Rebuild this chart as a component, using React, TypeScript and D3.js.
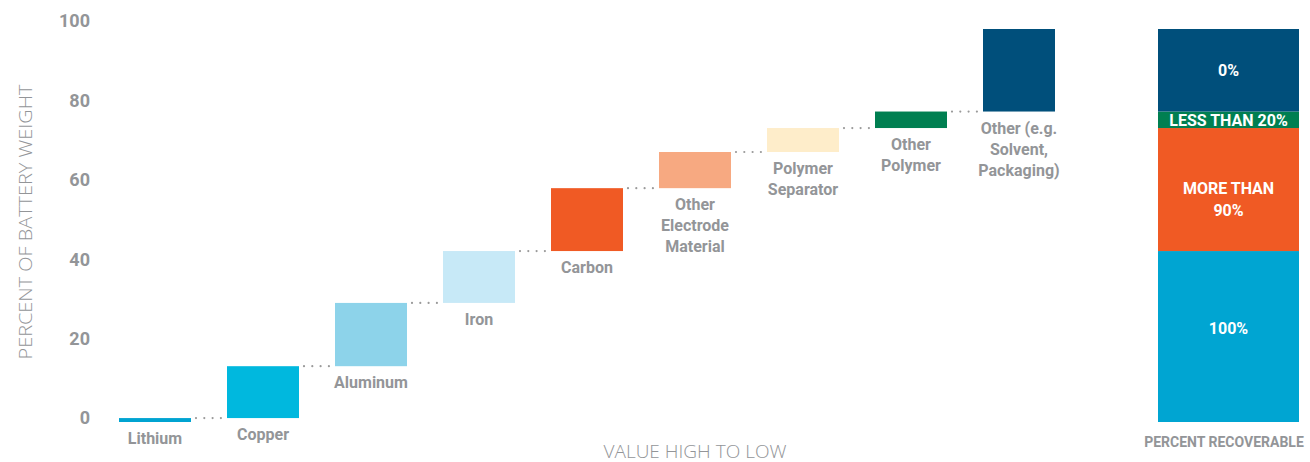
import React from "react";
import * as d3 from "d3";

const categories = [
  "Lithium",
  "Copper",
  "Aluminum",
  "Iron",
  "Carbon",
  "Other Electrode Material",
  "Polymer Separator",
  "Other Polymer",
  "Other (e.g. Solvent, Packaging)",
];
const labelLines = [
  ["Lithium"],
  ["Copper"],
  ["Aluminum"],
  ["Iron"],
  ["Carbon"],
  ["Other", "Electrode", "Material"],
  ["Polymer", "Separator"],
  ["Other", "Polymer"],
  ["Other (e.g.", "Solvent,", "Packaging)"],
];
const weights = [1, 13.2, 16.1, 13.2, 16, 9.2, 6.1, 4.2, 21];
const barColors = [
  "#00a3d1",
  "#00b8de",
  "#8dd3ea",
  "#c7e9f7",
  "#f05a24",
  "#f7a981",
  "#feedca",
  "#007f51",
  "#004f7b",
];

const recoverLabels = [["100%"], ["MORE THAN", "90%"], ["LESS THAN 20%"], ["0%"]];
const recoverValues = [43.5, 31.3, 4.2, 21];
const recoverColors = ["#00a5d2", "#f05a24", "#007f51", "#004f7b"];

const yTicks = [0, 20, 40, 60, 80, 100];

const W = 1310;
const H = 462;
const GRAY = "#939598";
const FONT = "Roboto, 'Noto Sans', sans-serif";

export default function App() {
  const y = d3.scaleLinear().domain([0, 100]).range([422, 29]);
  const tickY = d3.scaleLinear().domain([0, 100]).range([418, 21]);
  const x = d3
    .scaleBand<string>()
    .domain(categories)
    .range([101, 1073])
    .paddingInner(1 / 3)
    .paddingOuter(1 / 6);
  const bw = x.bandwidth();

  const cum: number[] = [];
  let acc = 0;
  weights.forEach((w) => {
    cum.push(acc);
    acc += w;
  });

  const stackX = d3.scaleBand<string>().domain(["rec"]).range([1158, 1299]);
  const stackCum: number[] = [];
  let acc2 = 0;
  recoverValues.forEach((v) => {
    stackCum.push(acc2);
    acc2 += v;
  });

  return (
    <svg
      width={W}
      height={H}
      style={{ position: "absolute", left: 0, top: 0, background: "#fff" }}
      fontFamily={FONT}
    >
      {/* y tick labels */}
      {yTicks.map((t) => (
        <text
          key={t}
          x={90}
          y={tickY(t)}
          dy="0.36em"
          textAnchor="end"
          fontSize={18}
          fontWeight={700}
          fill={GRAY}
        >
          {t}
        </text>
      ))}
      {/* y axis title */}
      <text
        transform={`translate(32,222) rotate(-90)`}
        textAnchor="middle"
        fontSize={19}
        fontWeight={300}
        fill={GRAY}
        fontFamily="'Open Sans', sans-serif"
        textLength={275}
        lengthAdjust="spacingAndGlyphs"
      >
        PERCENT OF BATTERY WEIGHT
      </text>
      {/* x axis title */}
      <text
        x={695}
        y={458}
        textAnchor="middle"
        fontSize={18}
        fontWeight={300}
        fill={GRAY}
        fontFamily="'Open Sans', sans-serif"
        textLength={183}
        lengthAdjust="spacingAndGlyphs"
      >
        VALUE HIGH TO LOW
      </text>

      {/* waterfall bars */}
      {categories.map((c, i) => {
        const x0 = x(c)!;
        const top = y(cum[i] + weights[i]);
        const bottom = y(cum[i]);
        return (
          <g key={c}>
            <rect x={x0} y={top} width={bw} height={bottom - top} fill={barColors[i]} />
            {labelLines[i].map((ln, j) => (
              <text
                key={j}
                x={x0 + bw / 2}
                y={bottom + 22 + j * 21}
                textAnchor="middle"
                fontSize={16}
                fontWeight={700}
                fill={GRAY}
              >
                {ln}
              </text>
            ))}
          </g>
        );
      })}

      {/* dotted connectors */}
      {categories.slice(0, -1).map((c, i) => {
        const level = y(cum[i] + weights[i]);
        const xa = x(c)! + bw + 5;
        const xb = x(categories[i + 1])! - 5;
        return (
          <line
            key={"d" + i}
            x1={xa}
            x2={xb}
            y1={level}
            y2={level}
            stroke="#9a9a9a"
            strokeWidth={2.2}
            strokeLinecap="round"
            strokeDasharray="0 8.3"
          />
        );
      })}

      {/* stacked recoverable bar */}
      {recoverValues.map((v, i) => {
        const top = y(stackCum[i] + v);
        const bottom = y(stackCum[i]);
        const cx = stackX("rec")! + stackX.bandwidth() / 2;
        const mid = (top + bottom) / 2;
        const lines = recoverLabels[i];
        const lh = 22;
        return (
          <g key={"s" + i}>
            <rect
              x={stackX("rec")!}
              y={top}
              width={stackX.bandwidth()}
              height={bottom - top}
              fill={recoverColors[i]}
            />
            {lines.map((ln, j) => (
              <text
                key={j}
                x={cx}
                y={mid + (j - (lines.length - 1) / 2) * lh + (lines.length > 1 ? 10 : i === 0 ? -8 : 0)}
                dy="0.36em"
                textAnchor="middle"
                fontSize={16}
                fontWeight={700}
                fill="#fff"
              >
                {ln}
              </text>
            ))}
          </g>
        );
      })}
      <text
        x={1224}
        y={447}
        textAnchor="middle"
        fontSize={14}
        fontWeight={700}
        fill={GRAY}
      >
        PERCENT RECOVERABLE
      </text>
    </svg>
  );
}
